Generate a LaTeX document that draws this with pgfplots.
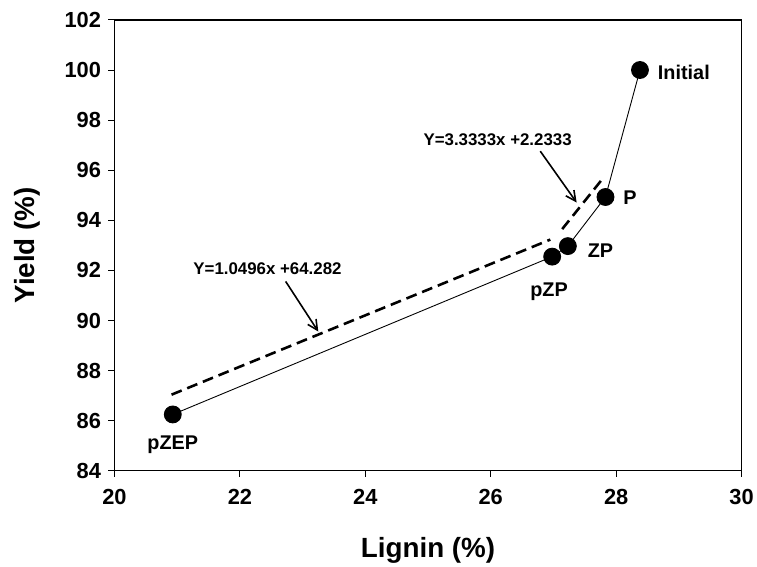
\documentclass[border=0pt]{standalone}
\usepackage{pgfplots}
\pgfplotsset{compat=1.18}
\usepackage{fontspec}
\setmainfont{Liberation Sans}
\usetikzlibrary{arrows.meta}
\begin{document}
\begin{tikzpicture}
\begin{axis}[
  name=ax,
  width=630bp, height=453bp, scale only axis,
  xmin=20, xmax=30, ymin=84, ymax=102,
  xtick={20,22,...,30}, ytick={84,86,...,102},
  tick align=outside, xtick pos=bottom, ytick pos=left,
  major tick length=6bp,
  axis line style={line width=1.3bp},
  every tick/.style={line width=1bp, black},
  /pgf/number format/assume math mode=true,
  ticklabel style={font=\fontsize{22}{24}\selectfont\bfseries},
  xticklabel style={yshift=-9bp},
  yticklabel style={xshift=-4bp},
  xlabel={Lignin (\%)}, ylabel={Yield (\%)},
  label style={font=\fontsize{28}{30}\selectfont\bfseries},
  xlabel style={yshift=-26bp},
  ylabel style={yshift=18bp},
  clip=false,
]
% dashed fits
\addplot[black, line width=2.6bp, dash pattern=on 11bp off 6bp] coordinates {(20.91,87.04) (26.95,93.23)};
\addplot[black, line width=2.6bp, dash pattern=on 11bp off 6bp] coordinates {(27.14,93.65) (27.80,95.71)};
% data
\addplot[black, line width=0.9bp, mark=*, mark size=8.5bp, mark options={solid, fill=black}] coordinates {
 (20.93,86.25) (26.98,92.55) (27.23,92.97) (27.83,94.93) (28.38,100.0)};
% labels
\node[font=\fontsize{20}{22}\selectfont\bfseries] at (axis cs:20.93,85.06) {pZEP};
\node[font=\fontsize{20}{22}\selectfont\bfseries] at (axis cs:26.93,91.14) {pZP};
\node[font=\fontsize{20}{22}\selectfont\bfseries] at (axis cs:27.75,92.79) {ZP};
\node[font=\fontsize{20}{22}\selectfont\bfseries] at (axis cs:28.22,94.91) {P};
\node[font=\fontsize{20}{22}\selectfont\bfseries] at (axis cs:29.08,99.92) {Initial};
% equations
\node[font=\fontsize{17}{19}\selectfont\bfseries] at (axis cs:22.44,92.07) {Y=1.0496x +64.282};
\node[font=\fontsize{17}{19}\selectfont\bfseries] at (axis cs:26.11,97.23) {Y=3.3333x +2.2333};
\draw[line width=1.6bp, -{Straight Barb[length=10bp,width=10bp]}] (axis cs:22.73,91.56) -- (axis cs:23.25,89.56);
\draw[line width=1.6bp, -{Straight Barb[length=10bp,width=10bp]}] (axis cs:26.79,96.76) -- (axis cs:27.37,94.71);
\path (rel axis cs:0,0) ++(-115bp,-94bp) coordinate (bl);
\path (rel axis cs:1,1) ++(12bp,20bp) coordinate (tr);
\end{axis}
\path (bl) rectangle (tr);
\end{tikzpicture}
\end{document}
